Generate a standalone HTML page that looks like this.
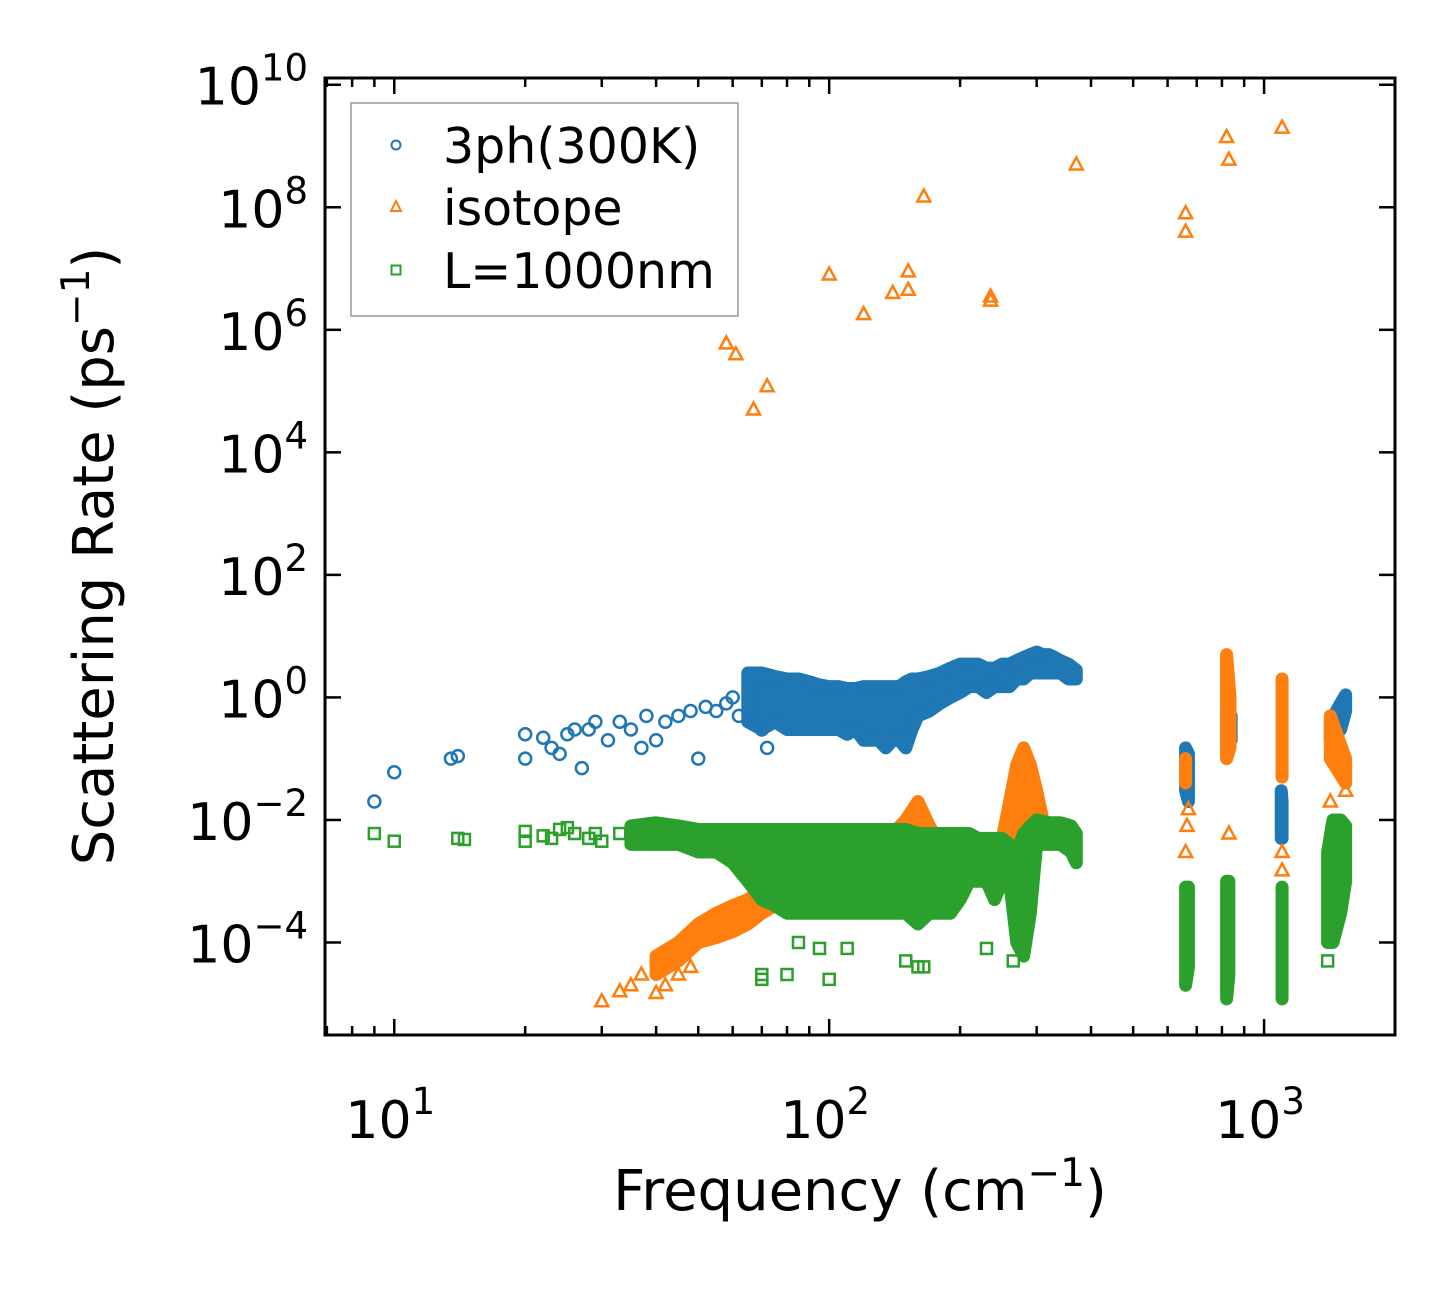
<!DOCTYPE html>
<html><head><meta charset="utf-8"><style>
html,body{margin:0;padding:0;background:#fff;}
svg text{font-family:"DejaVu Sans","Liberation Sans",sans-serif;fill:#000;}
</style></head><body>
<svg id="chart" width="1455" height="1284" viewBox="0 0 1455 1284" xmlns="http://www.w3.org/2000/svg">
<rect width="1455" height="1284" fill="#fff"/>
<g id="marks"></g>
<g id="axes"></g>
<text x="860" y="1210" font-size="56" text-anchor="middle">Frequency (cm<tspan font-size="39" dy="-24">−1</tspan><tspan dy="24">)</tspan></text>
<text transform="translate(113,556) rotate(-90)" font-size="56" text-anchor="middle">Scattering Rate (ps<tspan font-size="39" dy="-24">−1</tspan><tspan dy="24">)</tspan></text>
<g>
<rect x="351" y="103" width="387" height="213" fill="#fff" stroke="#999" stroke-width="1.5"/>
<circle cx="396" cy="145" r="4.5" fill="none" stroke="#1f77b4" stroke-width="2"/>
<text x="443" y="163" font-size="49">3ph(300K)</text>
<path d="M396,201 L401,211 L391,211 Z" fill="none" stroke="#ff7f0e" stroke-width="2"/>
<text x="443" y="225" font-size="49">isotope</text>
<rect x="391.5" y="265.5" width="9" height="9" fill="none" stroke="#2ca02c" stroke-width="2"/>
<text x="443" y="288" font-size="49">L=1000nm</text>
</g>
</svg>
<script>
// ---- data ----
const xTickValues = [10, 100, 1000];
const xTickLabels = ["1", "2", "3"];
const yTickValues = [1e-4, 1e-2, 1, 1e2, 1e4, 1e6, 1e8, 1e10];
const yTickLabels = ["−4", "−2", "0", "2", "4", "6", "8", "10"];

const ph3Freq = [9,10,13.5,14,20,20,22,23,24,25,26,27,28,29,31,33,35,37,38,40,42,45,48,50,52,55,58,60,62,70,72];
const ph3Rate = [0.02,0.06,0.1,0.11,0.25,0.1,0.22,0.15,0.12,0.25,0.3,0.07,0.3,0.4,0.2,0.4,0.3,0.15,0.5,0.2,0.4,0.5,0.6,0.1,0.7,0.6,0.8,1.0,0.5,0.3,0.15];
const ph3BandFreq = [65,70,75,80,85,90,95,100,105,110,115,120,125,130,135,140,145,150,155,160,170,180,190,200,210,220,230,240,250,260,270,280,290,300,310,320,330,340,355,370,660,670,820,840,1095,1100,1420,1500,1540];
const ph3BandLo = [0.4,0.3,0.4,0.3,0.3,0.3,0.3,0.3,0.3,0.25,0.3,0.2,0.2,0.2,0.15,0.2,0.2,0.15,0.3,0.5,0.6,0.8,1,1.2,1.5,1.5,1.2,1.5,1.5,1.5,2,2,2.5,2.5,2.5,2.5,2.5,2.5,2,2,0.03,0.02,0.2,0.2,0.005,0.005,0.2,0.3,0.6];
const ph3BandHi = [2.5,2.5,2.2,2,2,1.8,1.6,1.5,1.5,1.4,1.4,1.5,1.5,1.5,1.5,1.5,1.5,1.8,2,2,2.2,2.5,3,3.5,3.5,3.5,3,3,3.5,3.5,4,4.5,5,5.5,5,5,4.5,4,3.5,2.8,0.15,0.12,0.6,0.5,0.03,0.02,0.4,0.8,1.1];

const isoFreq = [58,61,67,72,100,120,140,152,152,165,235,235,370,660,660,820,830,1100,30,33,35,37,40,42,45,48,660,665,670,830,1100,1100,1420,1540];
const isoRate = [6e5,4e5,5e4,1.2e5,8e6,1.8e6,4e6,4.5e6,9e6,1.5e8,3.5e6,3e6,5e8,8e7,4e7,1.4e9,6e8,2e9,1.1e-5,1.6e-5,2e-5,3e-5,1.5e-5,2e-5,3e-5,4e-5,0.003,0.008,0.015,0.006,0.0015,0.003,0.02,0.03];
const isoBandFreq = [40,45,50,55,60,65,70,75,80,90,100,110,120,130,140,150,160,170,180,200,220,250,260,270,280,290,300,310,660,820,835,1100,1420,1540];
const isoBandLo = [3e-5,5e-5,1e-4,1.2e-4,1.5e-4,2e-4,3e-4,4e-4,5e-4,6e-4,1e-3,1e-3,1.5e-3,2e-3,2e-3,2e-3,3e-3,2e-3,2e-3,2e-3,2e-3,2e-3,3e-3,5e-3,0.01,0.01,0.008,0.006,0.04,0.1,0.15,0.05,0.1,0.04];
const isoBandHi = [6e-5,1e-4,2e-4,3e-4,4e-4,5e-4,7e-4,1e-3,1e-3,2e-3,3e-3,3e-3,4e-3,4e-3,6e-3,0.01,0.02,0.008,0.004,0.004,0.003,0.005,0.02,0.08,0.15,0.08,0.03,0.01,0.1,5,1,2,0.5,0.1];

const lFreq = [9,10,14,14.5,20,20,22,23,24,25,26,28,29,30,33,70,70,80,100,85,95,110,150,160,165,230,265,1400];
const lRate = [0.006,0.0045,0.005,0.0048,0.0065,0.0045,0.0055,0.005,0.007,0.0075,0.006,0.005,0.006,0.0045,0.006,3e-5,2.5e-5,3e-5,2.5e-5,1e-4,8e-5,8e-5,5e-5,4e-5,4e-5,8e-5,5e-5,5e-5];
const lBandFreq = [35,40,45,50,55,60,65,70,75,80,90,100,110,120,130,140,150,160,170,180,190,200,210,220,230,240,250,260,270,280,290,300,320,340,360,370,660,670,820,830,1100,1400,1440,1500,1540];
const lBandLo = [0.004,0.004,0.004,0.003,0.003,0.002,0.001,5e-4,4e-4,3e-4,3e-4,3e-4,3e-4,3e-4,3e-4,3e-4,3e-4,2e-4,3e-4,3e-4,3e-4,5e-4,1e-3,1e-3,1e-3,5e-4,1e-3,1e-3,1e-4,6e-5,3e-4,4e-3,4e-3,4e-3,3e-3,2e-3,2e-5,4e-5,1.2e-5,3e-5,1.2e-5,1e-4,1e-4,3e-4,1e-3];
const lBandHi = [0.008,0.009,0.008,0.007,0.007,0.007,0.007,0.007,0.007,0.007,0.007,0.007,0.007,0.007,0.007,0.007,0.007,0.006,0.006,0.006,0.006,0.006,0.006,0.005,0.005,0.005,0.005,0.004,0.003,0.006,0.008,0.01,0.009,0.009,0.008,0.006,8e-4,8e-4,1e-3,1e-3,8e-4,3e-3,0.01,0.01,0.008];

// ---- scales ----
const L = 325, R = 1395, T = 78, B = 1035;
const xMin = Math.log10(6.93), xMax = Math.log10(2000);
const yMin = -5.51, yMax = 10.11;
function xs(v){ return L + (Math.log10(v) - xMin) / (xMax - xMin) * (R - L); }
function ys(v){ return B - (Math.log10(v) - yMin) / (yMax - yMin) * (B - T); }

const NS = "http://www.w3.org/2000/svg";
const marks = document.getElementById('marks');
const axes = document.getElementById('axes');
function mk(tag, attrs, parent){
  const e = document.createElementNS(NS, tag);
  for (const k in attrs) e.setAttribute(k, attrs[k]);
  parent.appendChild(e); return e;
}
const clip = mk('clipPath', {id:'pc'}, marks);
mk('rect', {x:L, y:T, width:R-L, height:B-T}, clip);
marks.setAttribute('clip-path', 'url(#pc)');

function drawSeries(name, color, freq, rate, bf, blo, bhi, shape){
  const g = mk('g', {}, marks);
  
  
  // contiguous clusters as filled areas
  let seg = [0];
  const segs = [];
  for (let i = 1; i <= bf.length; i++){
    if (i === bf.length || bf[i] / bf[i-1] > 1.2){ segs.push(seg); seg = [i]; }
    else seg.push(i);
  }
  segs.forEach(s => {
    let pts = s.map(i => `${xs(bf[i])},${ys(bhi[i])}`);
    pts = pts.concat(s.slice().reverse().map(i => `${xs(bf[i])},${ys(blo[i])}`));
    const p = mk('polygon', {points:pts.join(' '), fill:color, stroke:color, 'stroke-width':13, 'stroke-linejoin':'round'}, g);
    
    
  });
  for (let i = 0; i < freq.length; i++){
    const x = xs(freq[i]), y = ys(rate[i]);
    let e;
    if (shape === 'circle') e = mk('circle', {cx:x, cy:y, r:6, fill:'none', stroke:color, 'stroke-width':2.5}, g);
    else if (shape === 'tri') e = mk('path', {d:`M${x},${y-7} L${x+6.5},${y+5} L${x-6.5},${y+5} Z`, fill:'none', stroke:color, 'stroke-width':2.5}, g);
    else e = mk('rect', {x:x-5.5, y:y-5.5, width:11, height:11, fill:'none', stroke:color, 'stroke-width':2.5}, g);
    
    
  }
}
drawSeries('3ph', '#1f77b4', ph3Freq, ph3Rate, ph3BandFreq, ph3BandLo, ph3BandHi, 'circle');
drawSeries('isotope', '#ff7f0e', isoFreq, isoRate, isoBandFreq, isoBandLo, isoBandHi, 'tri');
drawSeries('l1000nm', '#2ca02c', lFreq, lRate, lBandFreq, lBandLo, lBandHi, 'square');

// frame
const frame = mk('rect', {x:L, y:T, width:R-L, height:B-T, fill:'none', stroke:'#000', 'stroke-width':3}, axes);



// x ticks
for (let d = 0; d <= 3; d++){
  for (let m = 1; m <= 9; m++){
    const v = m * Math.pow(10, d);
    if (v < 6.93 || v > 2000) continue;
    const x = xs(v), len = m === 1 ? 16 : 9;
    mk('line', {x1:x, x2:x, y1:B, y2:B-len, stroke:'#000', 'stroke-width':2.5}, axes);
    mk('line', {x1:x, x2:x, y1:T, y2:T+len, stroke:'#000', 'stroke-width':2.5}, axes);
  }
}
for (let i = 0; i < xTickValues.length; i++){
  const x = xs(xTickValues[i]);
  const t = mk('text', {x:x-4, y:1138, 'font-size':52, 'text-anchor':'middle'}, axes);
  
  
  t.innerHTML = `10<tspan font-size="37" dy="-24">${xTickLabels[i]}</tspan>`;
}
// y ticks
for (let i = 0; i < yTickValues.length; i++){
  const y = ys(yTickValues[i]);
  mk('line', {x1:L, x2:L+16, y1:y, y2:y, stroke:'#000', 'stroke-width':2.5}, axes);
  mk('line', {x1:R, x2:R-16, y1:y, y2:y, stroke:'#000', 'stroke-width':2.5}, axes);
  const t = mk('text', {x:308, y:y+20, 'font-size':52, 'text-anchor':'end'}, axes);
  
  
  t.innerHTML = `10<tspan font-size="37" dy="-24">${yTickLabels[i]}</tspan>`;
}
</script>
</body></html>
